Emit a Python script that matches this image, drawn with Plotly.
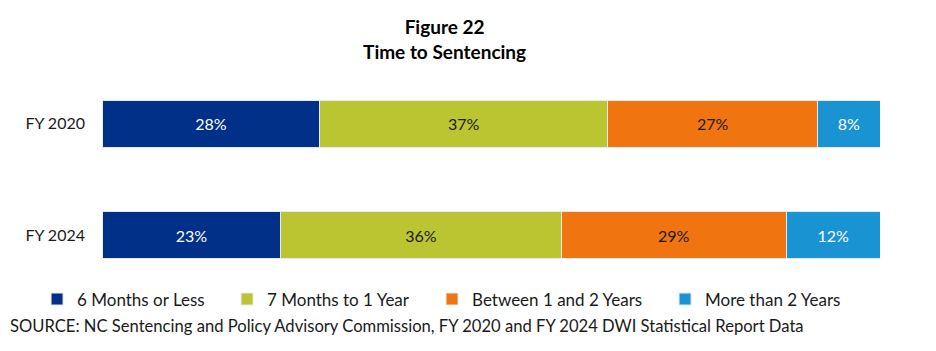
import plotly.graph_objects as go

categories = ["FY 2020", "FY 2024"]
series_names = ["6 Months or Less", "7 Months to 1 Year", "Between 1 and 2 Years", "More than 2 Years"]
six_months_or_less = [28, 23]
seven_months_to_1_year = [37, 36]
between_1_and_2_years = [27, 29]
more_than_2_years = [8, 12]

series_values = [six_months_or_less, seven_months_to_1_year, between_1_and_2_years, more_than_2_years]
colors = ["#003087", "#BBC531", "#F0740F", "#1A93D3"]
text_colors = ["white", "#1a1a1a", "#1a1a1a", "white"]
legend_ids = ["legend", "legend2", "legend3", "legend4"]
legend_x = [-0.0835, 0.1607, 0.4242, 0.7237]

FONT = "Lato, Carlito, Calibri, sans-serif"

fig = go.Figure()
for name, vals, col, tcol, lid in zip(series_names, series_values, colors, text_colors, legend_ids):
    fig.add_trace(go.Bar(
        y=categories, x=vals, name=name, orientation="h",
        marker=dict(color=col, line=dict(color="#E6E9F0", width=1)),
        text=[f"{v}%" for v in vals], textposition="inside",
        insidetextanchor="middle",
        textfont=dict(color=tcol, size=16, family=FONT),
        hoverinfo="skip", legend=lid,
    ))

legend_common = dict(orientation="h", yanchor="middle", y=-0.038, xanchor="left",
                     font=dict(size=17, family=FONT, color="#1a1a1a"),
                     bgcolor="rgba(0,0,0,0)")

fig.update_layout(
    barmode="stack",
    bargap=0.58,
    width=936, height=351,
    margin=dict(l=102, r=56, t=67.5, b=59.5),
    paper_bgcolor="white", plot_bgcolor="white",
    font=dict(family=FONT, size=16, color="#1a1a1a"),
    title=dict(text="<b>Figure 22<br>Time to Sentencing</b>", x=0.475, xanchor="center",
               y=0.903, yanchor="middle", font=dict(size=19, family=FONT, color="black")),
    xaxis=dict(range=[0, 100], visible=False, fixedrange=True),
    yaxis=dict(autorange="reversed", showgrid=False, zeroline=False, showline=False,
               ticks="", ticklabelstandoff=16, tickfont=dict(size=16, family=FONT, color="#1a1a1a")),
    legend=dict(x=legend_x[0], **legend_common),
    legend2=dict(x=legend_x[1], **legend_common),
    legend3=dict(x=legend_x[2], **legend_common),
    legend4=dict(x=legend_x[3], **legend_common),
    showlegend=True,
)

fig.add_annotation(
    text="SOURCE: NC Sentencing and Policy Advisory Commission, FY 2020 and FY 2024 DWI Statistical Report Data",
    xref="paper", yref="paper", x=-0.121, y=-0.158, xanchor="left", yanchor="middle",
    showarrow=False, font=dict(size=16.6, family=FONT, color="#1a1a1a"),
)

fig.write_html("out.html")
